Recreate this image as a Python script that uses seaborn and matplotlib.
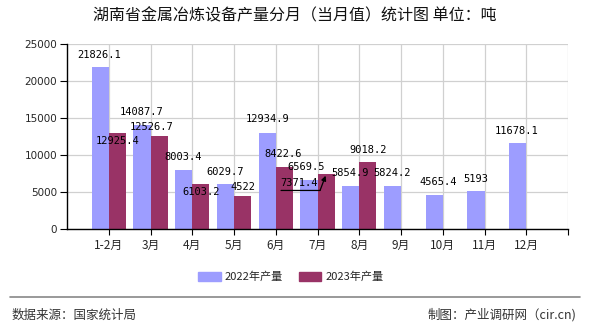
import matplotlib
matplotlib.use("Agg")
import matplotlib.pyplot as plt
import seaborn as sns
import pandas as pd
from matplotlib.transforms import offset_copy

months = ["1-2月", "3月", "4月", "5月", "6月", "7月", "8月", "9月", "10月", "11月", "12月"]
series_names = ["2022年产量", "2023年产量"]
values_2022 = [21826.1, 14087.7, 8003.4, 6029.7, 12934.9, 6569.5, 5854.9, 5824.2, 4565.4, 5193, 11678.1]
values_2023 = [12925.4, 12526.7, 6103.2, 4522, 8422.6, 7371.4, 9018.2]
label_2022 = ["21826.1", "14087.7", "8003.4", "6029.7", "12934.9", "6569.5", "5854.9", "5824.2", "4565.4", "5193", "11678.1"]
label_2023 = ["12925.4", "12526.7", "6103.2", "4522", "8422.6", "7371.4", "9018.2"]
yticks = [0, 5000, 10000, 15000, 20000, 25000]
colors = ["#9d9dff", "#993366"]

rows = []
for m, v in zip(months, values_2022):
    rows.append({"month": m, "series": series_names[0], "value": v})
for m, v in zip(months, values_2023):
    rows.append({"month": m, "series": series_names[1], "value": v})
df = pd.DataFrame(rows)

sns.set_theme(style="white")
plt.rcParams["font.family"] = ["Noto Sans CJK SC", "DejaVu Sans"]

fig = plt.figure(figsize=(5.9, 3.3), dpi=100)
ax = fig.add_axes([67 / 590, 1 - 229 / 330, (568 - 67) / 590, (229 - 44) / 330])

sns.barplot(data=df, x="month", y="value", hue="series", order=months,
            hue_order=series_names, palette=colors, width=0.82, saturation=1,
            linewidth=0, ax=ax, legend=True, errorbar=None)

ax.set_xlim(-1, 11)
ax.set_ylim(0, 25000)
ax.set_yticks(yticks)
ax.set_yticklabels([str(t) for t in yticks], fontsize=7.5, family="DejaVu Sans")
ax.set_xticks(list(range(len(months))) + [11])
ax.set_xticklabels(months + [""], fontsize=8.5)
ax.set_xlabel("")
ax.set_ylabel("")
ax.set_axisbelow(True)
ax.grid(True, axis="both", color="#d0d0d0", linewidth=0.9)
for s in ["top", "right"]:
    ax.spines[s].set_visible(False)
for s in ["left", "bottom"]:
    ax.spines[s].set_color("black")
    ax.spines[s].set_linewidth(1.0)
ax.tick_params(axis="y", length=5, width=0.8, color="black", pad=2, left=True)
ax.tick_params(axis="x", length=4, width=0.8, color="black", pad=3, bottom=True)

# label offsets in pixels (dx, dy) from bar top centre
off_2022 = [(-1, 12), (0, 13), (-1, 13), (0, 12), (0, 14), (-3, 13), (-1, 13), (0, 13), (4, 13), (0, 12), (-1, 12)]
off_2023 = [(0, -8), (-7, 9), (0, -8), (0, 9), (-1, 13), (-27, -9), (0, 12)]

lab_font = dict(fontsize=7.5, family="DejaVu Sans Mono", color="black", ha="center", va="center")
containers = ax.containers
for cont, labs, offs in [(containers[0], label_2022, off_2022), (containers[1], label_2023, off_2023)]:
    bars = [b for b in cont if b.get_height() > 0]
    for b, lab, (dx, dy) in zip(bars, labs, offs):
        bx = b.get_x() + b.get_width() / 2
        by = b.get_height()
        ax.annotate(lab, xy=(bx, by), xytext=(dx, dy), textcoords="offset pixels", **lab_font)

# leader line for the 7月 2023 label
b7 = [b for b in containers[1] if b.get_height() > 0][5]
bx7 = b7.get_x() + b7.get_width() / 2
by7 = b7.get_height()
ax.annotate("", xy=(bx7, by7), xytext=(-6, -16), textcoords="offset pixels",
            arrowprops=dict(arrowstyle="-|>", color="black", lw=0.9, shrinkA=0, shrinkB=1,
                            mutation_scale=7))
corner = offset_copy(ax.transData, fig=fig, x=-6, y=-16, units="dots")
ax.annotate("", xy=(bx7, by7), xycoords=corner, xytext=(-39, 0), textcoords="offset pixels",
            arrowprops=dict(arrowstyle="-", color="black", lw=0.9, shrinkA=0, shrinkB=0))

# legend
ax.legend_.remove()
handles = [plt.Rectangle((0, 0), 1, 1, color=c) for c in colors]
fig.legend(handles, series_names, loc="center", bbox_to_anchor=(291 / 590, 1 - 277 / 330),
           ncol=2, frameon=False, fontsize=8, handlelength=2.0, handleheight=0.85,
           handletextpad=0.4, columnspacing=1.4)

fig.text(295 / 590, 1 - 16 / 330, "湖南省金属冶炼设备产量分月（当月值）统计图 单位：吨",
         ha="center", va="center", fontsize=11.5, color="#111111", weight="medium")

fig.add_artist(plt.Line2D([10 / 590, 580 / 590], [1 - 297 / 330, 1 - 297 / 330],
                          color="#888888", linewidth=1.2))
fig.text(12 / 590, 1 - 315 / 330, "数据来源：国家统计局", ha="left", va="center",
         fontsize=9, color="#333333")
fig.text(576 / 590, 1 - 315 / 330, "制图：产业调研网（cir.cn)", ha="right", va="center",
         fontsize=9, color="#333333")

fig.savefig("out.png", dpi=100)
